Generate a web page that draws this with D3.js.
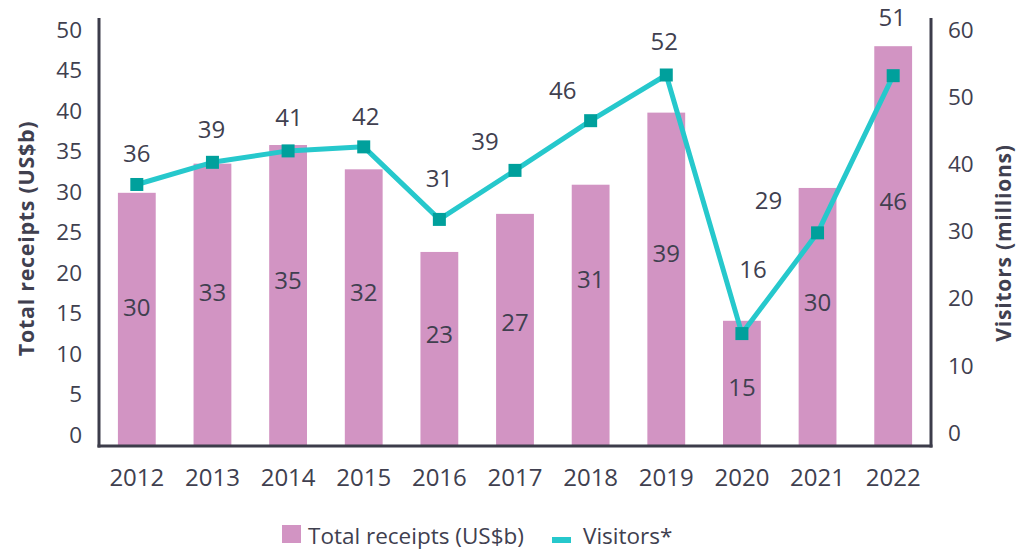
<!DOCTYPE html>
<html><head><meta charset="utf-8">
<script src="https://cdn.jsdelivr.net/npm/d3@7"></script>
<style>
body{margin:0;background:#fff}
svg text{font-family:"Open Sans",sans-serif;fill:#40404f}
</style>
</head><body>
<svg id="c" width="1016" height="550"></svg>
<script>
// ---- data ----
const years = ["2012","2013","2014","2015","2016","2017","2018","2019","2020","2021","2022"];
const receipts = [29.9,33.5,35.8,32.8,22.6,27.3,30.9,39.8,14.1,30.5,48.0];
const receiptLabels = ["30","33","35","32","23","27","31","39","15","30","46"];
const visitors = [37.0,40.3,42.0,42.6,31.8,39.1,46.5,53.3,14.8,29.8,53.2];
const visitorLabels = ["36","39","41","42","31","39","46","52","16","29","51"];
const leftTicks = [0,5,10,15,20,25,30,35,40,45,50];
const rightTicks = [0,10,20,30,40,50,60];
const seriesNames = ["Total receipts (US$b)","Visitors*"];
const leftTitle = "Total receipts (US$b)";
const rightTitle = "Visitors (millions)";

// ---- layout (label placement offsets, px) ----
const visLabelDx = [0,-1,1,2,0,-30,-28,-2,11,-49,-1];
const visLabelDy = [-32,-34,-34,-31,-42,-30,-31,-35,-65,-33,-59];
const barLabelDy = [114,128,134,122,82,108,94,140,66,114,154];

const pink = "#d294c3", teal = "#26c8cc", tealDark = "#00a09c", axisCol = "#3c3c4a";
const L = 99, R = 931, T = 18, B = 446;

const svg = d3.select("#c");
const x = d3.scaleBand().domain(years).range([L, R]).paddingInner(0.5).paddingOuter(0.25);
const yL = d3.scaleLinear().domain([0, 50]).range([435, 30]);
const yR = d3.scaleLinear().domain([0, 60]).range([433, 30]);

// bars
svg.append("g").selectAll("rect").data(years).join("rect")
  .attr("x", d => x(d)).attr("width", x.bandwidth())
  .attr("y", (d,i) => yL(receipts[i])).attr("height", (d,i) => B - yL(receipts[i]))
  .attr("fill", pink);

// bar labels
svg.append("g").selectAll("text").data(years).join("text")
  .attr("x", d => x(d) + x.bandwidth()/2)
  .attr("y", (d,i) => yL(receipts[i]) + barLabelDy[i])
  .attr("text-anchor","middle").attr("dominant-baseline","central")
  .style("font-size","24px")
  .text((d,i) => receiptLabels[i]);

// line
const cx = d => x(d) + x.bandwidth()/2;
svg.append("path")
  .datum(years)
  .attr("d", d3.line().x(d => cx(d)).y((d,i) => yR(visitors[i])))
  .attr("fill","none").attr("stroke", teal).attr("stroke-width",5).attr("stroke-linejoin","round");
svg.append("g").selectAll("rect").data(years).join("rect")
  .attr("x", d => cx(d) - 6.5).attr("y", (d,i) => yR(visitors[i]) - 6.5)
  .attr("width",13).attr("height",13).attr("fill", tealDark);

// visitor labels
svg.append("g").selectAll("text").data(years).join("text")
  .attr("x", (d,i) => cx(d) + visLabelDx[i])
  .attr("y", (d,i) => yR(visitors[i]) + visLabelDy[i])
  .attr("text-anchor","middle").attr("dominant-baseline","central")
  .style("font-size","24px")
  .text((d,i) => visitorLabels[i]);

// axes
const gl = svg.append("g").attr("transform",`translate(${L},0)`)
  .call(d3.axisLeft(yL).tickValues(leftTicks).tickSize(0).tickPadding(17));
gl.select(".domain").remove();
gl.selectAll("text").style("font-size","22.5px").attr("font-family",null).attr("fill",null);

const gr = svg.append("g").attr("transform",`translate(${R},0)`)
  .call(d3.axisRight(yR).tickValues(rightTicks).tickSize(0).tickPadding(17));
gr.select(".domain").remove();
gr.selectAll("text").style("font-size","22.5px").attr("font-family",null).attr("fill",null);

const gb = svg.append("g").attr("transform",`translate(0,${B})`)
  .call(d3.axisBottom(x).tickSize(0).tickPadding(23));
gb.select(".domain").remove();
gb.selectAll("text").style("font-size","24px").attr("font-family",null).attr("fill",null);

// axis lines
svg.append("line").attr("x1",L).attr("x2",L).attr("y1",T).attr("y2",B+1.5).attr("stroke",axisCol).attr("stroke-width",3);
svg.append("line").attr("x1",R).attr("x2",R).attr("y1",T).attr("y2",B+1.5).attr("stroke",axisCol).attr("stroke-width",3);
svg.append("line").attr("x1",L-1.5).attr("x2",R+1.5).attr("y1",B).attr("y2",B).attr("stroke",axisCol).attr("stroke-width",3);

// axis titles
svg.append("text").attr("transform","translate(34,238.5) rotate(-90)")
  .attr("text-anchor","middle")
  .style("font-size","21.5px").style("font-weight","700").style("letter-spacing","0.7px").text(leftTitle);
svg.append("text").attr("transform","translate(1011,243) rotate(-90)")
  .attr("text-anchor","middle")
  .style("font-size","21px").style("font-weight","700").style("letter-spacing","0.8px").text(rightTitle);

// legend
const lg = svg.append("g");
lg.append("rect").attr("x",282).attr("y",525).attr("width",19).attr("height",18).attr("fill",pink);
lg.append("text").attr("x",308).attr("y",535).attr("dominant-baseline","central").style("font-size","22.5px").text(seriesNames[0]);
lg.append("rect").attr("x",552).attr("y",537).attr("width",19).attr("height",6).attr("fill",teal);
lg.append("text").attr("x",583).attr("y",535).attr("dominant-baseline","central").style("font-size","22.5px").text(seriesNames[1]);
</script>
</body></html>
